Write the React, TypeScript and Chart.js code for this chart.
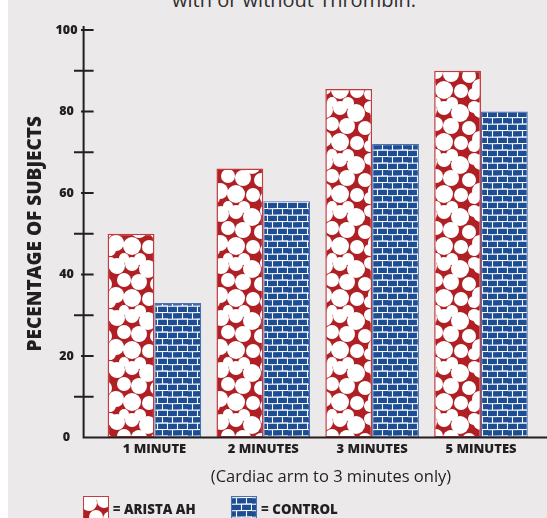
import React, { useEffect, useMemo, useRef } from 'react';
import { Chart, registerables } from 'chart.js';

Chart.register(...registerables);

// values
const categories = ['1 MINUTE', '2 MINUTES', '3 MINUTES', '5 MINUTES'];
const aristaValues = [50, 66, 85.5, 90];
const controlValues = [33, 58, 72, 80];
const seriesNames = ['ARISTA AH', 'CONTROL'];
const yTicks = [0, 20, 40, 60, 80, 100];
const yMinorTicks = [10, 30, 50, 70, 90];

const BG = '#ECE9EA';
const RED = '#B01F24';
const BLUE = '#1D4D92';
const INK = '#231F20';
const FONT = "'Open Sans', 'DejaVu Sans', sans-serif";

// white bubbles for the red fill, one 52px tile (x, y, r)
const TILE = 52;
const bubbles = [
  [5, 6, 8], [20, 4, 7], [36, 9, 9], [50, 3, 6], [12, 20, 7], [27, 22, 8],
  [45, 24, 7], [4, 35, 8], [20, 38, 9], [37, 39, 7], [50, 42, 6], [28, 51, 6],
  [12, 50, 5],
];

function bubbleTile(): HTMLCanvasElement {
  const c = document.createElement('canvas');
  c.width = TILE;
  c.height = TILE;
  const g = c.getContext('2d')!;
  g.fillStyle = RED;
  g.fillRect(0, 0, TILE, TILE);
  g.fillStyle = '#ffffff';
  bubbles.forEach(([x, y, r]) => {
    for (let dx = -1; dx <= 1; dx++) {
      for (let dy = -1; dy <= 1; dy++) {
        g.beginPath();
        g.arc(x + dx * TILE, y + dy * TILE, r, 0, Math.PI * 2);
        g.fill();
      }
    }
  });
  return c;
}

function brickTile(): HTMLCanvasElement {
  const c = document.createElement('canvas');
  c.width = 20;
  c.height = 13;
  const g = c.getContext('2d')!;
  g.fillStyle = BLUE;
  g.fillRect(0, 0, 20, 13);
  g.strokeStyle = '#ffffff';
  g.lineWidth = 1.1;
  g.beginPath();
  g.moveTo(0, 0.8); g.lineTo(20, 0.4);
  g.moveTo(0, 7.3); g.lineTo(20, 6.9);
  g.moveTo(4.5, 0.5); g.lineTo(4.5, 7);
  g.moveTo(14.5, 0.5); g.lineTo(14.5, 7);
  g.moveTo(9.5, 7); g.lineTo(9.5, 13);
  g.moveTo(19.5, 7); g.lineTo(19.5, 13);
  g.stroke();
  return c;
}

const axisPlugin = {
  id: 'handAxis',
  afterDatasetsDraw(chart: any) {
    const { ctx, width } = chart;
    const y = chart.scales.y;
    const ax = chart.chartArea.left - 16.4;
    const y0 = y.getPixelForValue(0);
    ctx.save();
    ctx.strokeStyle = INK;
    ctx.lineWidth = 2;
    ctx.beginPath();
    ctx.moveTo(ax, y.getPixelForValue(100) - 4);
    ctx.lineTo(ax, y0);
    ctx.moveTo(ax - 1, y0);
    ctx.lineTo(width, y0);
    yTicks.filter((v) => v > 0).forEach((v) => {
      const py = y.getPixelForValue(v);
      ctx.moveTo(ax - 2.6, py);
      ctx.lineTo(ax + 10, py);
    });
    yMinorTicks.forEach((v) => {
      const py = y.getPixelForValue(v);
      ctx.moveTo(ax - 9.6, py);
      ctx.lineTo(ax + 10, py);
    });
    ctx.stroke();
    ctx.restore();
  },
};

const App: React.FC = () => {
  const canvasRef = useRef<HTMLCanvasElement>(null);
  const tiles = useMemo(() => ({ red: bubbleTile(), blue: brickTile() }), []);

  useEffect(() => {
    const ctx = canvasRef.current!.getContext('2d')!;
    const redFill = ctx.createPattern(tiles.red, 'repeat')!;
    const blueFill = ctx.createPattern(tiles.blue, 'repeat')!;

    const chart = new Chart(ctx, {
      type: 'bar',
      data: {
        labels: categories,
        datasets: [
          {
            label: seriesNames[0],
            data: aristaValues,
            backgroundColor: redFill as any,
            borderColor: '#C43A3E',
            borderWidth: 1.5,
            borderSkipped: false,
            categoryPercentage: 0.86,
            barPercentage: 1,
          },
          {
            label: seriesNames[1],
            data: controlValues,
            backgroundColor: blueFill as any,
            borderColor: '#4A72B0',
            borderWidth: 1.2,
            borderSkipped: false,
            categoryPercentage: 0.86,
            barPercentage: 1,
          },
        ],
      },
      options: {
        animation: false,
        responsive: true,
        maintainAspectRatio: false,
        layout: { padding: { top: 19, right: 11.6, left: 0, bottom: 0 } },
        plugins: {
          legend: { display: false },
          tooltip: { enabled: false },
        },
        scales: {
          x: {
            grid: { display: false, drawTicks: false },
            border: { display: false },
            ticks: {
              color: INK,
              padding: 4,
              font: { family: FONT, size: 13, weight: 800 as any },
            },
            afterFit: (s: any) => {
              s.height = 80.5;
            },
          },
          y: {
            min: 0,
            max: 100,
            grid: { display: false, drawTicks: false },
            border: { display: false },
            afterBuildTicks: (s: any) => {
              s.ticks = yTicks.map((v) => ({ value: v }));
            },
            ticks: {
              color: INK,
              padding: 22.5,
              crossAlign: 'center',
              font: { family: FONT, size: 12.5, weight: 800 as any },
            },
            title: {
              display: true,
              text: 'PECENTAGE OF SUBJECTS',
              color: INK,
              padding: { top: 16.6, bottom: 0 },
              font: { family: FONT, size: 19, weight: 800 as any },
            },
            afterFit: (s: any) => {
              s.width = 92;
            },
          },
        },
      },
      plugins: [axisPlugin],
    });

    return () => {
      chart.destroy();
    };
  }, [tiles]);

  const swatch = (tile: HTMLCanvasElement, left: number, border: string): React.CSSProperties => ({
    position: 'absolute',
    left,
    top: 496,
    width: 24,
    height: 30,
    backgroundImage: `url(${tile.toDataURL()})`,
    border: `1px solid ${border}`,
  });

  const legendText: React.CSSProperties = {
    position: 'absolute',
    top: 501.5,
    fontFamily: FONT,
    fontWeight: 800,
    fontSize: 13.3,
    lineHeight: '15px',
    color: INK,
    whiteSpace: 'nowrap',
  };

  return (
    <div
      style={{
        position: 'fixed',
        left: 8,
        top: 0,
        width: 539,
        height: 518,
        background: BG,
        overflow: 'hidden',
      }}
    >
      <div
        style={{
          position: 'absolute',
          left: 286,
          top: -10.5,
          transform: 'translateX(-50%)',
          fontFamily: FONT,
          fontSize: 20,
          lineHeight: '20px',
          color: '#2E2E2E',
          whiteSpace: 'nowrap',
        }}
      >
        with or without Thrombin.
      </div>
      <div style={{ position: 'absolute', left: 0, top: 0, width: 539, height: 518 }}>
        <canvas ref={canvasRef} />
      </div>
      <div
        style={{
          position: 'absolute',
          left: 323,
          top: 465.5,
          transform: 'translateX(-50%)',
          fontFamily: FONT,
          fontSize: 16.5,
          lineHeight: '20px',
          color: INK,
          whiteSpace: 'nowrap',
        }}
      >
        (Cardiac arm to 3 minutes only)
      </div>
      <div style={swatch(tiles.red, 74.7, '#C43A3E')} />
      <div style={{ ...legendText, left: 104.7 }}>= {seriesNames[0]}</div>
      <div style={swatch(tiles.blue, 223, '#4A72B0')} />
      <div style={{ ...legendText, left: 253 }}>= {seriesNames[1]}</div>
    </div>
  );
};

export default App;
